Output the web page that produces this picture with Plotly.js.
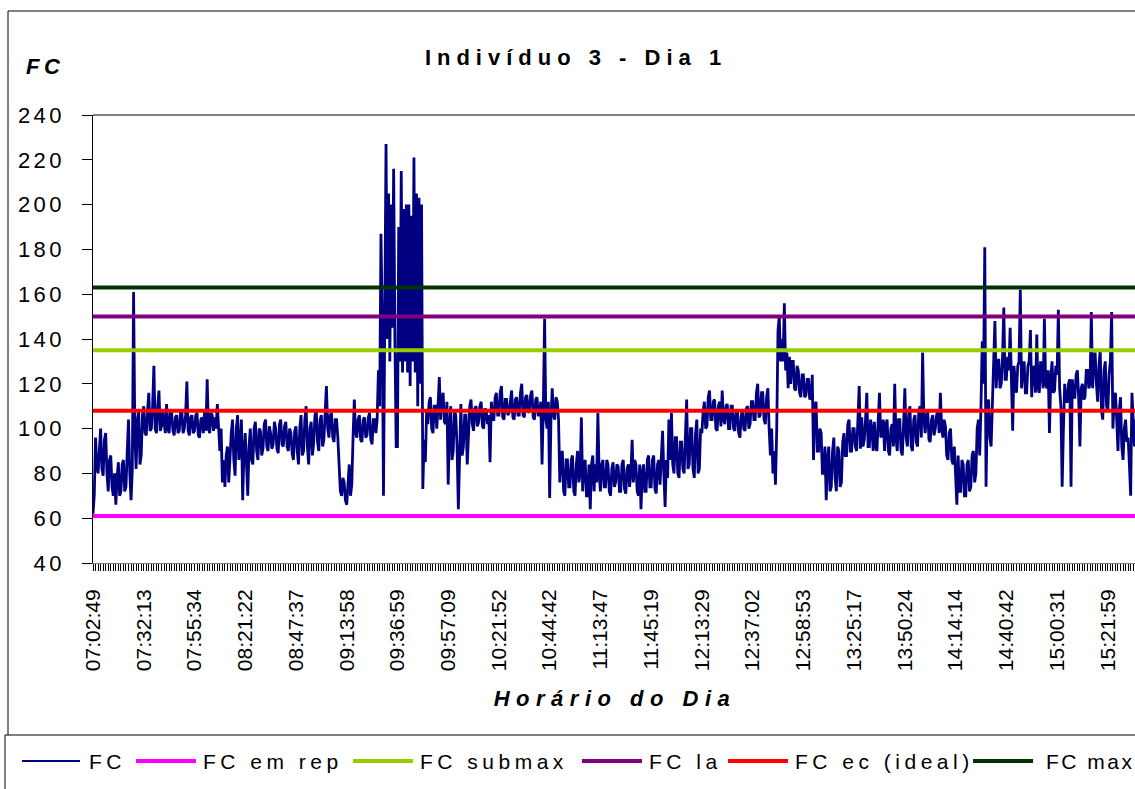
<!DOCTYPE html>
<html><head><meta charset="utf-8">
<script src="https://cdn.plot.ly/plotly-3.0.1.min.js"></script>
<style>
html,body{margin:0;padding:0;overflow:hidden;background:#fff;}
#chart{width:1300px;height:789px;}
.gtitle{letter-spacing:6px;}
.xtitle{letter-spacing:6.5px;}
.ytick text{letter-spacing:3.5px;}
.annotation-text{letter-spacing:4.5px;}
.annotation:last-child .annotation-text{letter-spacing:2.5px;}
</style></head>
<body><div id="chart"></div>
<script>
// Tick labels (time of day), one every 40 samples
const timeLabels = ['07:02:49','07:32:13','07:55:34','08:21:22','08:47:37','09:13:58','09:36:59',
  '09:57:09','10:21:52','10:44:42','11:13:47','11:45:19','12:13:29','12:37:02','12:58:53',
  '13:25:17','13:50:24','14:14:14','14:40:42','15:00:31','15:21:59'];
const labelEvery = 40;

// Heart rate (FC)
const fcValues = [
  62,70,96,84,80,94,100,82, 79,95,98,80,72,86,88,74, 70,80,66,78,85,70,72,84, 86,72,74,90,104,80,68,82,
  161,96,82,104,108,84,88,106, 110,98,97,108,116,99,100,110, 128,100,98,110,117,99,101,108, 104,98,111,100,98,108,107,99,
  97,105,106,98,99,107,108,98, 100,106,121,99,97,105,106,98, 99,106,107,97,96,104,105,98, 108,99,122,100,98,107,106,99,
  105,100,111,98,90,100,76,86, 74,88,92,76,88,98,104,86, 79,100,106,86,92,104,68,90, 98,80,70,92,100,86,84,100,
  103,90,86,100,99,88,91,102, 104,92,90,101,98,91,93,103, 100,91,89,102,104,93,92,101, 103,92,90,100,98,89,86,99,
  101,90,84,100,106,88,90,104, 110,92,84,100,103,88,94,106, 108,94,90,104,106,92,95,107, 119,100,96,106,107,96,94,104,
  104,96,80,72,70,78,76,68, 66,78,84,70,75,96,113,98, 96,104,106,95,94,104,105,96, 97,105,107,95,93,104,104,98,
  104,126,110,187,150,70,180,227, 140,205,130,200,145,216,140,92, 92,190,130,215,125,198,130,200, 125,200,119,195,130,221,125,205,
  110,203,120,200,73,95,85,108, 102,112,114,100,98,110,110,100, 110,123,104,114,116,103,102,112, 75,100,110,86,90,108,106,92,
  64,90,111,88,92,106,106,84, 100,110,113,102,99,109,110,101, 103,110,112,101,100,109,108,102, 106,85,112,104,104,114,116,106,
  106,116,119,105,104,113,113,106, 107,114,117,105,104,113,114,106, 106,116,120,106,105,114,115,107, 108,115,117,105,104,113,114,106,
  106,112,84,110,149,104,100,112, 69,104,118,106,104,114,112,104, 76,88,90,72,70,86,86,74, 74,86,88,72,70,84,90,76,
  80,105,72,84,86,70,70,84, 64,84,88,72,84,76,107,80, 72,84,86,74,74,86,84,72, 70,82,85,74,76,84,83,72,
  72,84,86,73,71,82,84,74, 80,95,76,86,84,72,70,84, 64,80,84,72,72,86,88,74, 74,86,88,73,71,84,86,75,
  86,99,80,65,86,78,104,86, 107,84,80,96,96,80,78,94, 94,82,80,96,113,82,84,100, 100,82,78,98,104,80,82,100,
  98,108,112,100,101,114,117,104, 104,112,113,100,99,110,112,101, 117,104,102,110,111,100,100,110, 110,100,99,108,108,98,96,106,
  108,100,99,109,110,100,102,112, 112,104,104,116,120,105,106,116, 116,104,102,114,118,100,88,100, 80,90,75,100,144,150,130,140,
  130,156,126,134,118,132,120,130, 130,118,117,128,126,116,114,124, 124,114,115,122,122,113,114,124, 86,110,112,90,90,100,98,80,
  80,92,68,86,92,72,74,90, 96,78,72,92,90,74,76,94, 98,88,88,102,104,90,90,100, 100,92,90,104,119,91,105,92,
  95,104,116,92,92,104,100,90, 103,92,90,104,116,96,98,104, 90,102,104,90,88,100,102,92, 120,96,90,104,104,90,88,102,
  118,96,92,106,110,92,90,104, 106,94,92,108,110,96,134,104, 98,106,108,95,94,104,106,97, 100,106,108,98,116,100,96,104,
  101,88,86,98,100,86,84,92, 78,66,88,72,72,86,84,70, 70,84,86,72,74,88,90,76, 80,100,104,88,110,139,120,181,
  74,110,113,96,92,118,130,148, 118,130,131,118,120,132,154,122, 122,132,126,145,118,99,128,120, 116,128,130,162,118,126,130,116,
  116,128,130,144,114,126,128,116, 142,118,116,130,126,118,149,120, 118,126,98,122,130,116,117,128, 124,153,118,110,74,100,120,112,
  112,120,122,74,122,114,114,124, 126,114,92,118,120,113,114,126, 126,118,120,152,118,130,134,120, 112,128,135,108,104,126,130,110,
  108,124,130,152,100,112,116,104, 90,108,114,92,86,100,104,94, 96,84,70,116,100,92,104,96
];

// Reference levels
const fcEmRep = 61;
const fcSubmax = 135;
const fcLa = 150;
const fcEcIdeal = 108;
const fcMax = 163;

// Legend entries: name, colour
const seriesNames = ['FC', 'FC em rep', 'FC submax', 'FC la', 'FC ec (ideal)', 'FC max'];
const seriesColors = ['#000080', '#FF00FF', '#99CC00', '#800080', '#FF0000', '#003300'];

const N = fcValues.length;
const idx = fcValues.map((_, i) => i);
const xEnd = N - 1;
const tickvals = timeLabels.map((_, k) => k * labelEvery);
const levels = [fcEmRep, fcSubmax, fcLa, fcEcIdeal, fcMax];

const traces = [
  {x: idx, y: fcValues, name: seriesNames[0], mode: 'lines', line: {color: seriesColors[0], width: 2.8}}
].concat(levels.map((v, k) => ({
  x: [0, xEnd], y: [v, v], name: seriesNames[k + 1], mode: 'lines',
  line: {color: seriesColors[k + 1], width: 4}
})));

// page geometry (pixels)
const W = 1300, H = 789;
const L = 93, R = 1137, T = 115, B = 563;
const px = p => (p - L) / (R - L);
const py = p => (B - p) / (B - T);

// hand-placed legend row (pixel positions of each sample line start)
const legendStarts = [22, 136, 353, 582, 728, 973];
const legendLineLen = 60, legendY = 761;
const legendShapes = legendStarts.map((x0, k) => ({
  type: 'line', xref: 'paper', yref: 'paper',
  x0: px(x0), x1: px(x0 + legendLineLen - (k === 0 ? 2 : 0)), y0: py(legendY), y1: py(legendY),
  line: {color: seriesColors[k], width: k === 0 ? 2 : 4}
}));
const legendTexts = legendStarts.map((x0, k) => ({
  text: seriesNames[k], xref: 'paper', yref: 'paper', x: px(x0 + legendLineLen + 5), y: py(legendY),
  xanchor: 'left', yanchor: 'middle', showarrow: false, font: {size: 21}
}));

const layout = {
  width: W, height: H,
  margin: {l: L, r: W - R, t: T, b: H - B, autoexpand: false},
  paper_bgcolor: 'white', plot_bgcolor: 'white',
  font: {family: 'Liberation Sans, Arial, sans-serif', color: 'black'},
  title: {text: 'Indivíduo 3 - Dia 1', font: {size: 22, weight: 'bold'},
          xref: 'container', x: 576 / W, xanchor: 'center',
          yref: 'container', y: 1 - 57 / H, yanchor: 'middle'},
  xaxis: {range: [0, xEnd], tickmode: 'array', tickvals: tickvals, ticktext: timeLabels,
          tickangle: -90, tickfont: {size: 21}, ticks: 'outside', ticklen: 7, tickcolor: 'black',
          showline: true, linecolor: '#808080', linewidth: 1, showgrid: false, zeroline: false,
          automargin: false, ticklabelstandoff: 10,
          minor: {ticks: 'outside', ticklen: 7, tickcolor: 'black', tickwidth: 1, dtick: 2, tick0: 0, showgrid: false},
          title: {text: 'Horário do Dia', font: {size: 22, weight: 'bold', style: 'italic'}, standoff: 20}},
  yaxis: {range: [40, 240], tick0: 40, dtick: 20, ticks: 'outside', ticklen: 10, tickcolor: 'black',
          showline: true, linecolor: 'black', linewidth: 1.5, showgrid: false, zeroline: false,
          tickfont: {size: 22}, ticklabelstandoff: 12, automargin: false},
  showlegend: false,
  shapes: [
    {type: 'line', xref: 'paper', yref: 'paper', x0: 0, x1: 1, y0: 1, y1: 1, line: {color: '#808080', width: 2}},
    {type: 'rect', xref: 'paper', yref: 'paper', x0: px(8), x1: px(1350), y0: py(11), y1: py(820),
     line: {color: 'black', width: 1}, layer: 'below'},
    {type: 'rect', xref: 'paper', yref: 'paper', x0: px(5), x1: px(1350), y0: py(735), y1: py(820),
     line: {color: 'black', width: 1}, fillcolor: 'white', layer: 'below'}
  ].concat(legendShapes),
  annotations: [
    {text: '<b><i>FC</i></b>', xref: 'paper', yref: 'paper', x: px(45), y: py(66),
     xanchor: 'center', yanchor: 'middle', showarrow: false, font: {size: 22}}
  ].concat(legendTexts)
};

Plotly.newPlot('chart', traces, layout, {displayModeBar: false, staticPlot: true});
</script></body></html>
